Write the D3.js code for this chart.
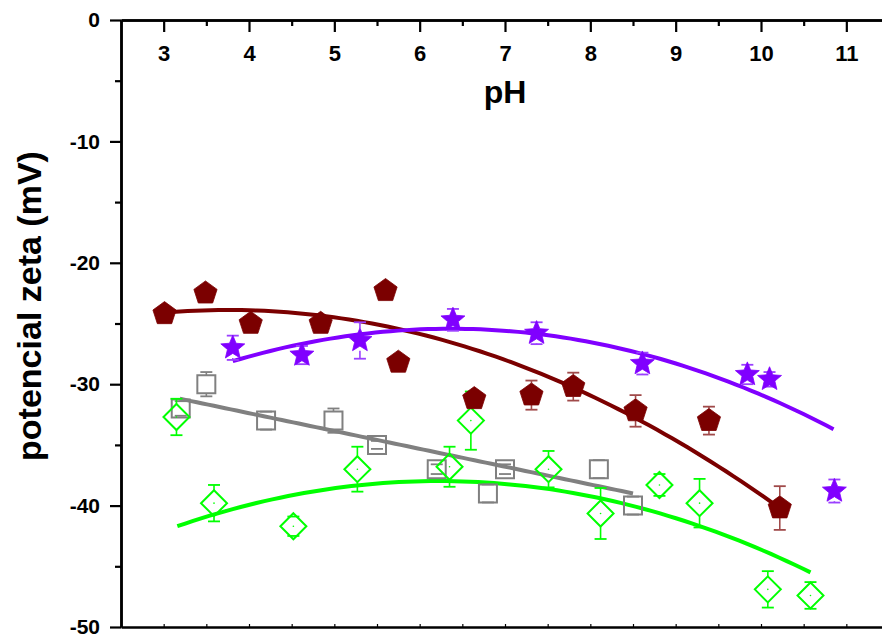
<!DOCTYPE html>
<html>
<head>
<meta charset="utf-8">
<script src="https://cdn.jsdelivr.net/npm/d3@7"></script>
<style>
  html, body { margin: 0; padding: 0; background: #fff; }
  svg { display: block; font-family: "Liberation Sans", Arial, sans-serif; }
</style>
</head>
<body>
<svg id="chart" width="882" height="639"></svg>
<script>
// Zeta potential vs pH — four samples with error bars and polynomial fits

const xTicks = [3, 4, 5, 6, 7, 8, 9, 10, 11];
const yTicks = [0, -10, -20, -30, -40, -50];

// Series 1: filled dark-red pentagons
const redPH   = [3.01, 3.49, 4.02, 4.84, 5.60, 5.75, 6.64, 7.31, 7.80, 8.53, 9.39, 10.22];
const redZeta = [-24.2, -22.5, -25.0, -25.0, -22.3, -28.2, -31.2, -30.9, -30.2, -32.2, -33.0, -40.2];
const redErr  = [0.5, 0.4, 0.4, 0.5, 0.5, 0.4, 0.5, 1.2, 1.15, 1.3, 1.15, 1.8];

// Series 2: filled violet stars
const violetPH   = [3.81, 4.62, 5.30, 6.39, 7.37, 8.61, 9.84, 10.10, 10.86];
const violetZeta = [-27.0, -27.6, -26.4, -24.7, -25.8, -28.3, -29.2, -29.6, -38.8];
const violetErr  = [1.0, 0.75, 1.5, 0.9, 0.9, 0.9, 0.8, 0.6, 0.95];

// Series 3: open grey squares
const greyPH   = [3.20, 3.50, 4.20, 4.99, 5.50, 6.20, 6.80, 7.00, 8.10, 8.50];
const greyZeta = [-32.0, -30.0, -33.0, -33.0, -35.0, -37.0, -39.0, -37.0, -37.0, -40.0];
const greyErr  = [0.6, 1.0, 0.74, 1.0, 0.33, 0.4, 0.74, 0.4, 0.74, 0.74];

// Series 4: open green diamonds
const greenPH   = [3.15, 3.59, 4.52, 5.27, 6.35, 6.60, 7.51, 8.12, 8.81, 9.28, 10.08, 10.58];
const greenZeta = [-32.7, -39.8, -41.7, -37.0, -36.8, -33.0, -37.0, -40.65, -38.3, -39.8, -46.9, -47.4];
const greenErr  = [1.5, 1.5, 0.8, 1.85, 1.65, 2.4, 1.5, 2.1, 0.9, 2.0, 1.5, 1.1];

// Fit curves: zeta = c0 + c1*pH + c2*pH^2, over the given pH range
const redFit    = [-29.38, 2.927, -0.390];   const redFitRange    = [3.01, 10.22];
const violetFit = [-42.05, 5.225, -0.4107];  const violetFitRange = [3.81, 10.85];
const greyFit   = [-26.51, -1.469, 0];       const greyFitRange   = [3.19, 8.50];
const greenFit  = [-53.33, 4.933, -0.3963];  const greenFitRange  = [3.16, 10.58];

const svg = d3.select("#chart");

const x = d3.scaleLinear().domain([2.5, 11.5]).range([121, 889]);
const y = d3.scaleLinear().domain([-50, 0]).range([627, 20]);

// ---- axes ----
const axisStroke = 2.5;
function styleAxis(g) {
  g.selectAll("path.domain").attr("stroke", "#000").attr("stroke-width", axisStroke);
  g.selectAll(".tick line").attr("stroke", "#000").attr("stroke-width", 2.2);
}

// top pH axis with labels underneath the line
const xMajor = svg.append("g").attr("transform", `translate(0,${y(0)})`)
  .call(d3.axisBottom(x).tickValues(xTicks).tickSize(12).tickSizeOuter(0).tickPadding(13)
    .tickFormat(d => String(d)));
styleAxis(xMajor);
xMajor.selectAll("text").attr("font-size", 22).attr("font-weight", "bold").attr("fill", "#000");

const xMinorVals = d3.range(3.5, 11.5, 1);
const xMinor = svg.append("g").attr("transform", `translate(0,${y(0)})`)
  .call(d3.axisBottom(x).tickValues(xMinorVals).tickSize(6).tickSizeOuter(0).tickFormat(""));
styleAxis(xMinor);

// bottom line with small inward ticks
const bottomVals = d3.range(3, 11.5, 0.5);
const xBottom = svg.append("g").attr("transform", `translate(0,${y(-50)})`)
  .call(d3.axisTop(x).tickValues(bottomVals).tickSize(3).tickSizeOuter(0).tickFormat(""));
styleAxis(xBottom);
xBottom.selectAll(".tick line").attr("stroke-width", 1.2);

// left zeta axis
const yMajor = svg.append("g").attr("transform", `translate(${x(2.5)},0)`)
  .call(d3.axisLeft(y).tickValues(yTicks).tickSize(11).tickSizeOuter(0).tickPadding(10)
    .tickFormat(d => String(d)));
styleAxis(yMajor);
yMajor.selectAll("text").attr("font-size", 21).attr("font-weight", "bold").attr("fill", "#000");

const yMinor = svg.append("g").attr("transform", `translate(${x(2.5)},0)`)
  .call(d3.axisLeft(y).tickValues(d3.range(-5, -50, -10)).tickSize(6).tickSizeOuter(0).tickFormat(""));
styleAxis(yMinor);

// axis titles
svg.append("text").attr("x", 505).attr("y", 103).attr("text-anchor", "middle")
  .attr("font-size", 32).attr("font-weight", "bold").text("pH");
svg.append("text").attr("transform", "translate(41,306) rotate(-90)").attr("text-anchor", "middle")
  .attr("font-size", 34).attr("font-weight", "bold").text("potencial zeta (mV)");

// ---- fit curves ----
const line = d3.line().x(d => x(d[0])).y(d => y(d[1])).curve(d3.curveLinear);
function fitPoints(coef, range) {
  const n = 80, pts = [];
  for (let i = 0; i <= n; i++) {
    const p = range[0] + (range[1] - range[0]) * i / n;
    pts.push([p, coef[0] + coef[1] * p + coef[2] * p * p]);
  }
  return pts;
}
const fits = [
  { coef: greyFit,   range: greyFitRange,   color: "#808080" },
  { coef: greenFit,  range: greenFitRange,  color: "#00ff00" },
  { coef: redFit,    range: redFitRange,    color: "#7b0000" },
  { coef: violetFit, range: violetFitRange, color: "#8000ff" }
];
fits.forEach(f => {
  svg.append("path").datum(fitPoints(f.coef, f.range))
    .attr("d", line).attr("fill", "none").attr("stroke", f.color).attr("stroke-width", 4)
    .attr("stroke-linecap", "butt");
});

// ---- marker shapes ----
function polygon(pts) { return "M" + pts.map(p => p[0].toFixed(2) + "," + p[1].toFixed(2)).join("L") + "Z"; }
function pentagon(R) {
  return polygon(d3.range(5).map(k => {
    const a = (-90 + k * 72) * Math.PI / 180;
    return [R * Math.cos(a), R * Math.sin(a)];
  }));
}
function star(R, r) {
  return polygon(d3.range(10).map(k => {
    const a = (-90 + k * 36) * Math.PI / 180, rr = k % 2 ? r : R;
    return [rr * Math.cos(a), rr * Math.sin(a)];
  }));
}
function square(h) { return polygon([[-h, -h], [h, -h], [h, h], [-h, h]]); }
function diamond(h) { return polygon([[0, -h], [h, 0], [0, h], [-h, 0]]); }

const series = [
  { ph: greyPH, z: greyZeta, e: greyErr, shape: square(9), up: 9, down: 9,
    stroke: "#808080", fill: "none", sw: 2, bar: "#808080", dot: false },
  { ph: greenPH, z: greenZeta, e: greenErr, shape: diamond(13), up: 13, down: 13,
    stroke: "#00ff00", fill: "none", sw: 2, bar: "#00ff00", dot: true },
  { ph: redPH, z: redZeta, e: redErr, shape: pentagon(12.2), up: 12.2, down: 9.9,
    stroke: "#7b0000", fill: "#7b0000", sw: 0.8, bar: "#a04a4a", dot: false },
  { ph: violetPH, z: violetZeta, e: violetErr, shape: star(12.6, 5.6), up: 12.6, down: 10.2,
    stroke: "#8000ff", fill: "#8000ff", sw: 0.8, bar: "#9b40ff", dot: false }
];

series.forEach(s => {
  const pts = s.ph.map((p, i) => ({ p, z: s.z[i], e: s.e[i] }));
  const g = svg.append("g");
  // error bars: stems outside the symbol, caps at the ends
  pts.forEach(d => {
    const cx = x(d.p), cy = y(d.z), yt = y(d.z + d.e), yb = y(d.z - d.e);
    if (yt < cy - s.up) g.append("line").attr("x1", cx).attr("x2", cx).attr("y1", yt).attr("y2", cy - s.up)
      .attr("stroke", s.bar).attr("stroke-width", 1.6);
    if (yb > cy + s.down) g.append("line").attr("x1", cx).attr("x2", cx).attr("y1", cy + s.down).attr("y2", yb)
      .attr("stroke", s.bar).attr("stroke-width", 1.6);
    [yt, yb].forEach(yy => g.append("line").attr("x1", cx - 6).attr("x2", cx + 6).attr("y1", yy).attr("y2", yy)
      .attr("stroke", s.bar).attr("stroke-width", 1.8));
  });
  g.selectAll("path.mk").data(pts).join("path").attr("class", "mk")
    .attr("d", s.shape).attr("transform", d => `translate(${x(d.p)},${y(d.z)})`)
    .attr("fill", s.fill).attr("stroke", s.stroke).attr("stroke-width", s.sw)
    .attr("stroke-linejoin", "miter");
  if (s.dot) g.selectAll("circle").data(pts).join("circle")
    .attr("cx", d => x(d.p)).attr("cy", d => y(d.z)).attr("r", 0.8).attr("fill", s.stroke);
});
</script>
</body>
</html>
